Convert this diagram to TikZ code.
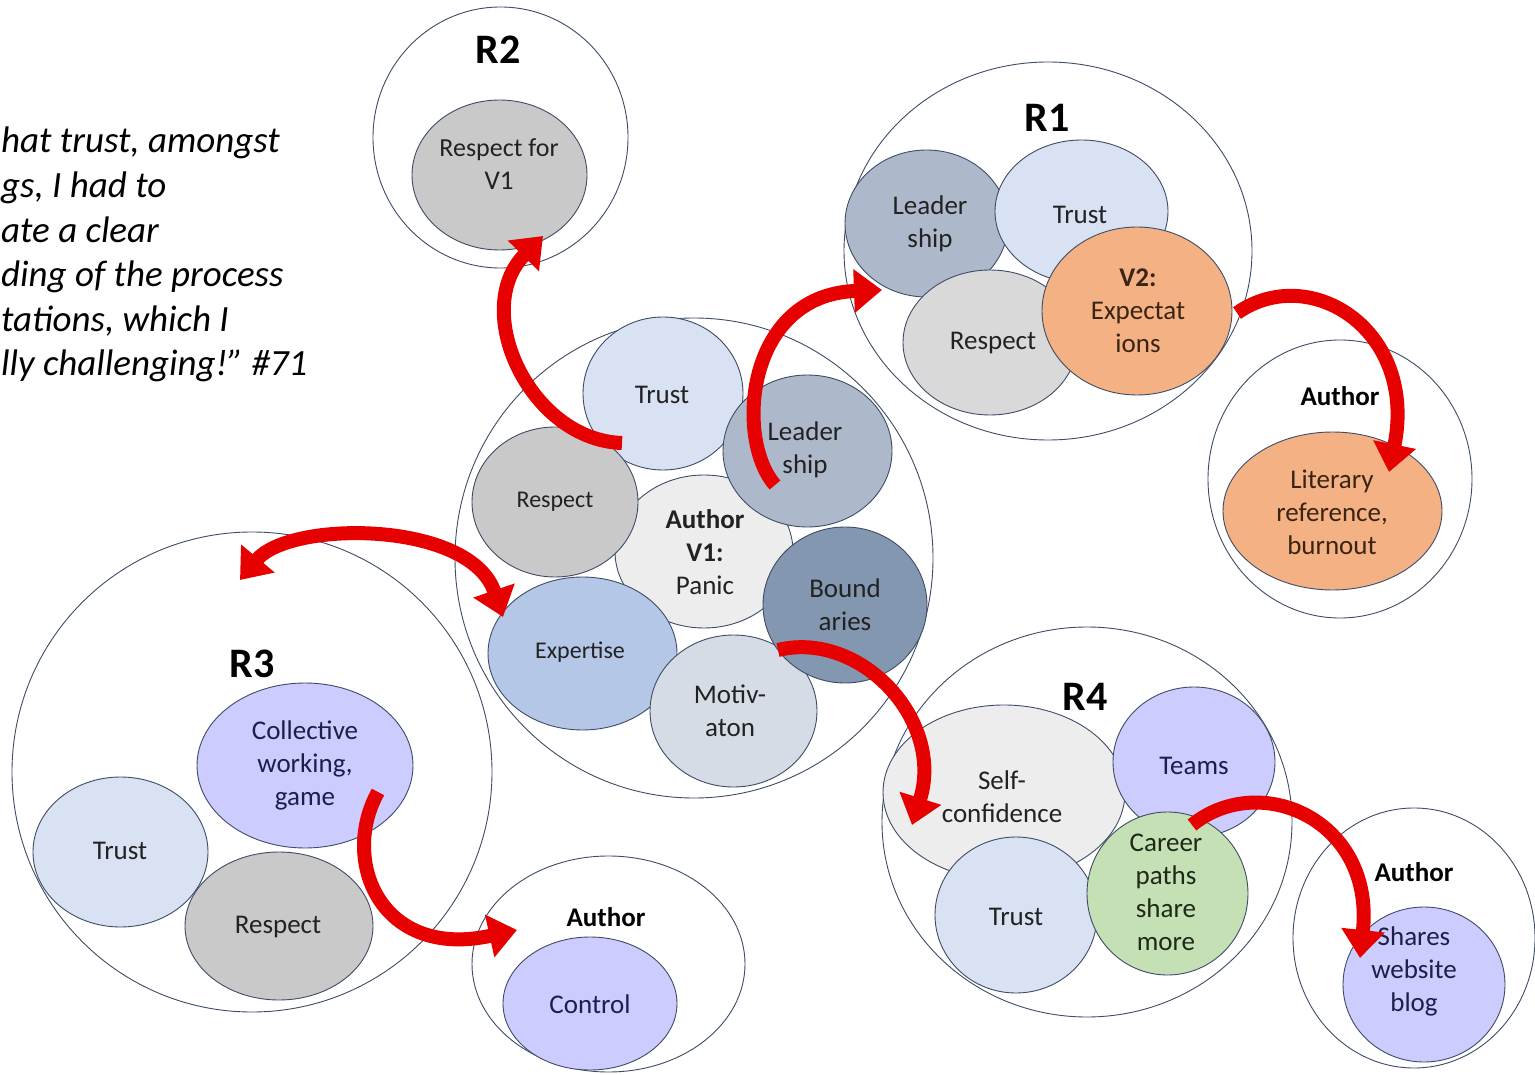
\documentclass[tikz,border=0pt]{standalone}
\usepackage{fontspec}
\setmainfont{Carlito}
\usetikzlibrary{shapes.geometric,arrows.meta}
\definecolor{edge}{HTML}{3E4C66}
\definecolor{ltblue}{HTML}{D9E2F3}
\definecolor{grayA}{HTML}{C9C9C9}
\definecolor{grayB}{HTML}{D9D9D9}
\definecolor{leadc}{HTML}{ADB9CA}
\definecolor{boundc}{HTML}{8497B0}
\definecolor{motivc}{HTML}{D6DCE5}
\definecolor{expertc}{HTML}{B4C7E7}
\definecolor{palec}{HTML}{EDEDED}
\definecolor{orngc}{HTML}{F4B183}
\definecolor{lavc}{HTML}{CCCCFF}
\definecolor{grnc}{HTML}{C5E0B4}
\definecolor{arrred}{HTML}{E60000}
\definecolor{ink}{HTML}{222222}
\definecolor{inklav}{HTML}{1E1E48}
\definecolor{inkor}{HTML}{3A2414}
\definecolor{inkgr}{HTML}{1E2A18}
\newcommand{\bubb}[9]{%
  \node[bub, fill=#6, minimum width=#4pt, minimum height=#5pt] (#1) at (#2,#3) {};
  \node[lbl] (#1t) at (#7,#8) {#9};}
\frenchspacing
\begin{document}
\begin{tikzpicture}[x=1pt,y=-1pt,
  outer/.style={ellipse, draw=edge, line width=0.9pt, inner sep=0pt},
  bub/.style={ellipse, draw=edge, line width=0.9pt, inner sep=0pt},
  lbl/.style={align=center, text=ink, inner sep=0pt, font=\fontsize{27}{33}\selectfont},
  title/.style={font=\bfseries\fontsize{42}{48}\selectfont, text=black, inner sep=0pt},
  auth/.style={font=\bfseries\fontsize{27}{33}\selectfont, text=black, inner sep=0pt},
  redarr/.style={draw=arrred, line width=14pt, line cap=butt, -{Triangle[width=42pt,length=28pt]}},
  redarr2/.style={draw=arrred, line width=14pt, line cap=butt, {Triangle[width=42pt,length=28pt]}-{Triangle[width=42pt,length=28pt]}},
]
\useasboundingbox (0,0) rectangle (1535,1075);
\fill[white] (0,0) rectangle (1535,1075);

% quote
\node[anchor=north west, align=left, inner sep=0pt, font=\itshape\fontsize{37}{44.6}\selectfont, text=black] (quote) at (1,127)
 {hat trust, amongst\\gs, I had to\\ate a clear\\ding of the process\\tations, which I\\lly challenging!” \#71};

% outer circles
\node[outer, minimum width=255pt, minimum height=261pt] (R2) at (500.5,137.5) {};
\node[outer, minimum width=408pt, minimum height=378pt] (R1) at (1048,251) {};
\node[outer, minimum width=264pt, minimum height=278pt] (A1) at (1340,479) {};
\node[outer, minimum width=478pt, minimum height=480pt] (C) at (694,558) {};
\node[outer, minimum width=480pt, minimum height=480pt] (R3) at (252,772) {};
\node[outer, minimum width=273pt, minimum height=216pt] (A3) at (608.5,964) {};
\node[outer, minimum width=410pt, minimum height=390pt] (R4) at (1087,822) {};
\node[outer, minimum width=242pt, minimum height=260pt] (A4) at (1414,938) {};

% titles
\node[title] (R2title) at (498,50) {R2};
\node[title] (R1title) at (1047,118) {R1};
\node[title] (R3title) at (252,664) {R3};
\node[title] (R4title) at (1085,697) {R4};
\node[auth] (A1title) at (1340,396) {Author};
\node[auth] (A3title) at (606,917) {Author};
\node[auth] (A4title) at (1414,872) {Author};

% R2
\bubb{rtwo}{499.5}{175}{175}{150}{grayA}{499}{164}{\fontsize{26}{34}\selectfont Respect for\\V1}

% R1
\bubb{oLead}{926.5}{223.5}{163}{147}{leadc}{930}{224}{Leader\\ship}
\bubb{oTrust}{1081.5}{211.5}{173}{143}{ltblue}{1080}{215}{Trust}
\bubb{oResp}{990}{342.5}{174}{145}{grayB}{993}{343}{Respect}
\bubb{oVtwo}{1137}{311}{190}{168}{orngc}{1138}{311}{\color{inkor}\textbf{V2:}\\\color{inkor}Expectat\\\color{inkor}ions}

% Author of R1
\bubb{lit}{1332.5}{511}{219}{158}{orngc}{1332}{512}{\color{inkor}Literary\\\color{inkor}reference,\\\color{inkor}burnout}

% central cluster
\bubb{cAuth}{704}{551.5}{178}{153}{palec}{705}{552}{\textbf{Author}\\\textbf{V1:}\\Panic}
\bubb{cTrust}{663}{393.5}{160}{153}{ltblue}{662}{395}{Trust}
\bubb{cResp}{555}{502}{166}{150}{grayA}{555}{502}{\fontsize{24}{29}\selectfont Respect}
\bubb{cLead}{807.5}{451}{169}{152}{leadc}{805}{450}{Leader\\ship}
\bubb{cExp}{582.5}{653.5}{189}{153}{expertc}{580}{652}{\fontsize{24}{29}\selectfont Expertise}
\bubb{cMot}{733.5}{711}{167}{152}{motivc}{730}{711}{Motiv-\\aton}
\bubb{cBound}{845}{605}{164}{156}{boundc}{845}{605}{Bound\\aries}

% R3
\bubb{tColl}{305}{765.5}{216}{165}{lavc}{305}{765}{\color{inklav}Collective\\\color{inklav}working,\\\color{inklav}game}
\bubb{tTrust}{120.5}{852}{175}{150}{ltblue}{120}{851}{Trust}
\bubb{tResp}{279}{926}{188}{148}{grayA}{278}{927}{Respect}
\bubb{ctrl}{590}{1003.5}{174}{133}{lavc}{590}{1004}{\color{inklav}Control}

% R4
\bubb{fSelf}{1004}{792.5}{242}{175}{palec}{1002}{797}{Self-\\confidence}
\bubb{fTeams}{1194}{762}{162}{150}{lavc}{1194}{766}{\color{inklav}Teams}
\bubb{fTrust}{1016}{915}{162}{156}{ltblue}{1016}{917}{Trust}
\bubb{fCar}{1167.5}{893.5}{161}{163}{grnc}{1166}{892}{\color{inkgr}Career\\\color{inkgr}paths\\\color{inkgr}share\\\color{inkgr}more}
\bubb{shares}{1424}{984.5}{162}{155}{lavc}{1414}{971}{\color{inklav}Shares\\\color{inklav}website\\\color{inklav}blog}

% arrows
\coordinate (a1s) at (622,443); \coordinate (a1e) at (543,236);
\coordinate (a2s) at (775,485); \coordinate (a2e) at (882,290);
\coordinate (a3s) at (1237,313); \coordinate (a3e) at (1389,472);
\coordinate (a4s) at (240,580); \coordinate (a4e) at (503,617);
\coordinate (a5s) at (778,650); \coordinate (a5e) at (912,825);
\coordinate (a6s) at (378,792); \coordinate (a6e) at (517,930);
\coordinate (a7s) at (1192,825); \coordinate (a7e) at (1360,958);
\draw[redarr] (a1s) .. controls (530,440) and (470,310) .. (a1e);
\draw[redarr] (a2s) .. controls (735,440) and (745,295) .. (a2e);
\draw[redarr] (a3s) .. controls (1310,262) and (1418,330) .. (a3e);
\draw[redarr2] (a4s) .. controls (290,520) and (470,520) .. (a4e);
\draw[redarr] (a5s) .. controls (860,630) and (945,720) .. (a5e);
\draw[redarr] (a6s) .. controls (340,860) and (380,960) .. (a6e);
\draw[redarr] (a7s) .. controls (1260,770) and (1375,820) .. (a7e);
\end{tikzpicture}
\end{document}
